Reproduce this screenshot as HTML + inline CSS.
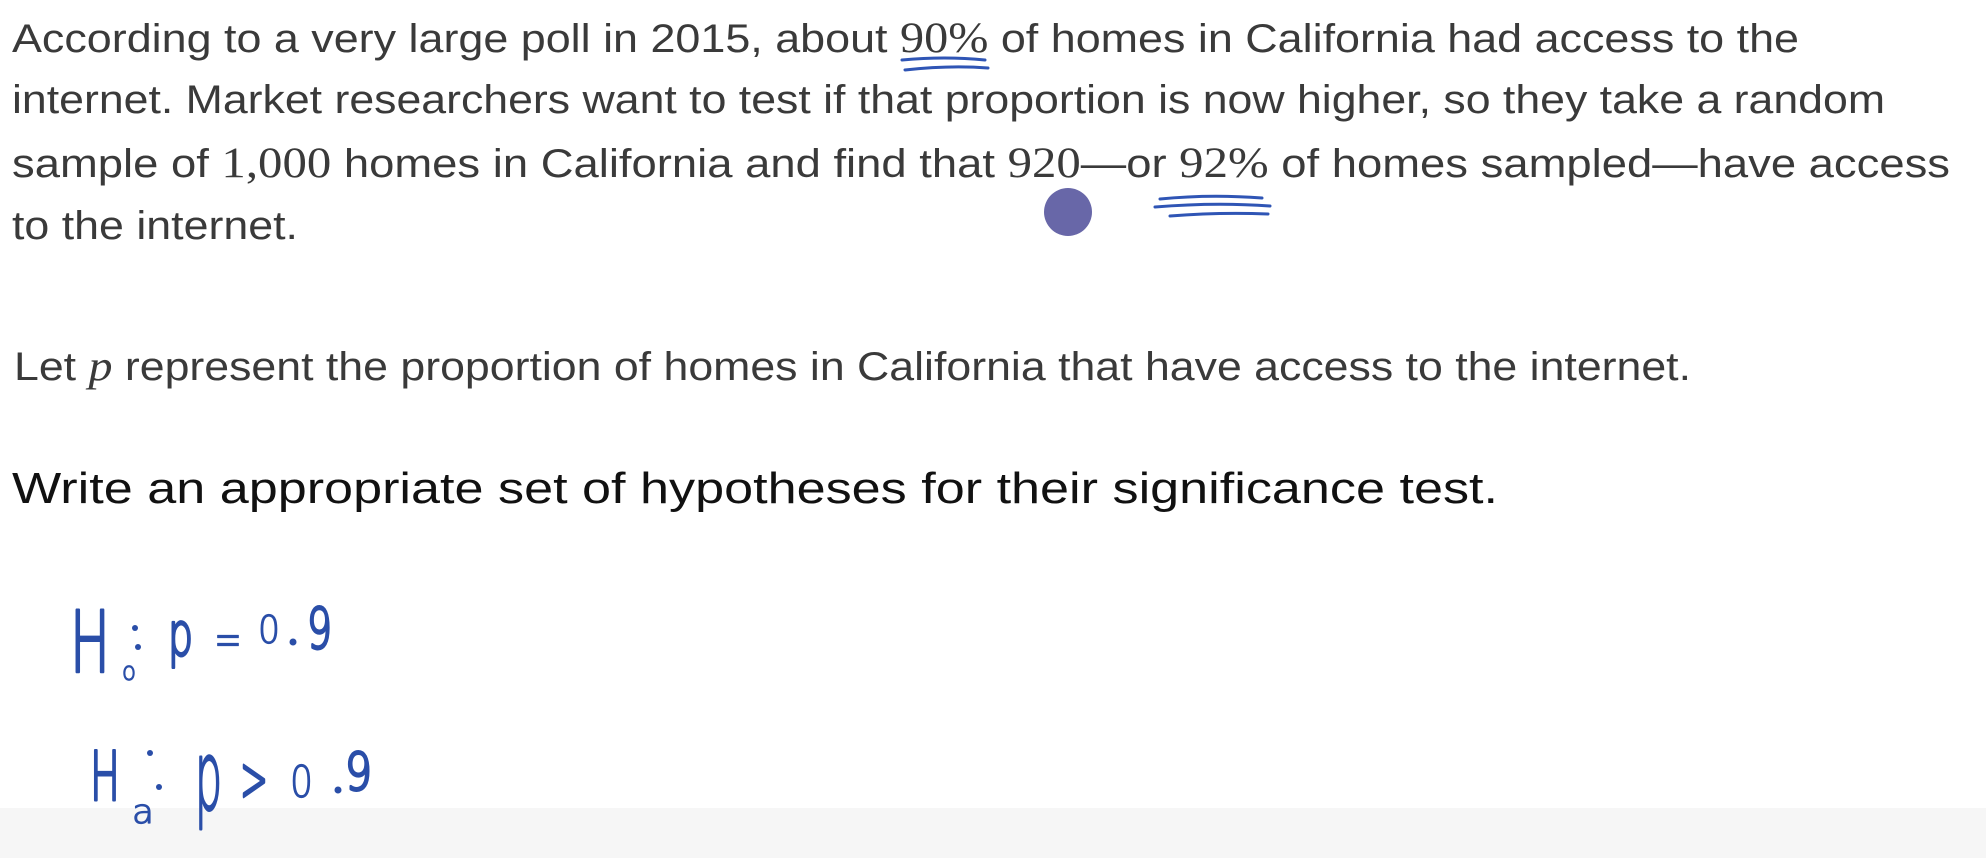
<!DOCTYPE html>
<html><head><meta charset="utf-8"><style>
html,body{margin:0;padding:0;background:#fff;width:1986px;height:858px;overflow:hidden}
svg{display:block}
.t{font-family:"Liberation Sans",sans-serif;font-size:40px;fill:#3a3a3a}
.m{font-family:"Liberation Serif",serif;font-size:43px}
.h{font-family:"DejaVu Sans","Liberation Sans",sans-serif;font-weight:200;fill:#2a4ea8;stroke:#2a4ea8;stroke-width:3;stroke-linejoin:round}
.s{stroke-width:1.2}
</style></head><body>
<svg width="1986" height="858" viewBox="0 0 1986 858">
<rect x="0" y="808" width="1986" height="50" fill="#f6f6f6"/>
<g>
<text class="t" x="12" y="52" textLength="1787" lengthAdjust="spacingAndGlyphs">According to a very large poll in 2015, about <tspan class="m">90%</tspan> of homes in California had access to the</text>
<text class="t" x="12" y="113" textLength="1873" lengthAdjust="spacingAndGlyphs">internet. Market researchers want to test if that proportion is now higher, so they take a random</text>
<text class="t" x="12" y="177" textLength="1938" lengthAdjust="spacingAndGlyphs">sample of <tspan class="m">1,000</tspan> homes in California and find that <tspan class="m">920</tspan>—or <tspan class="m">92%</tspan> of homes sampled—have access</text>
<text class="t" x="12" y="239" textLength="286" lengthAdjust="spacingAndGlyphs">to the internet.</text>
<text class="t" x="14" y="380" textLength="1677" lengthAdjust="spacingAndGlyphs">Let <tspan class="m" font-style="italic">p</tspan> represent the proportion of homes in California that have access to the internet.</text>
<text class="t" x="12" y="503" style="font-size:44px;fill:#111" textLength="1486" lengthAdjust="spacingAndGlyphs">Write an appropriate set of hypotheses for their significance test.</text>
</g>
<g fill="none" stroke="#2f55b5" stroke-linecap="round">
<path d="M902 60 Q945 56 985 60" stroke-width="3"/>
<path d="M905 70 Q950 65 988 68" stroke-width="3"/>
<path d="M1160 199 Q1210 194 1262 198" stroke-width="3"/>
<path d="M1155 207 Q1215 202 1270 206" stroke-width="3"/>
<path d="M1170 216 Q1220 212 1268 214" stroke-width="3"/>
<circle cx="1068" cy="212" r="24" fill="#6867a8" stroke="none"/>
</g>
<g>
<text class="h" x="70" y="672" font-size="85" textLength="40" lengthAdjust="spacingAndGlyphs">H</text>
<text class="h s" x="122" y="680" font-size="26" textLength="14" lengthAdjust="spacingAndGlyphs">o</text>
<circle cx="135" cy="628" r="3" fill="#2a4ea8"/><circle cx="138" cy="647" r="3" fill="#2a4ea8"/>
<text class="h" x="168" y="655" font-size="60" textLength="25" lengthAdjust="spacingAndGlyphs">p</text>
<text class="h s" x="214" y="656" font-size="50" textLength="28" lengthAdjust="spacingAndGlyphs">=</text>
<text class="h s" x="258" y="643" font-size="38" textLength="22" lengthAdjust="spacingAndGlyphs">0</text>
<circle cx="293" cy="642" r="3.5" fill="#2a4ea8"/>
<text class="h" x="307" y="648" font-size="56" textLength="25" lengthAdjust="spacingAndGlyphs">9</text>
</g>
<g>
<text class="h" x="90" y="800" font-size="68" textLength="30" lengthAdjust="spacingAndGlyphs">H</text>
<text class="h s" x="132" y="823" font-size="33" textLength="22" lengthAdjust="spacingAndGlyphs">a</text>
<circle cx="150" cy="753" r="3" fill="#2a4ea8"/><circle cx="159" cy="787" r="3" fill="#2a4ea8"/>
<text class="h" x="195" y="809" font-size="95" textLength="27" lengthAdjust="spacingAndGlyphs">p</text>
<text class="h" x="240" y="801" font-size="64" textLength="28" lengthAdjust="spacingAndGlyphs">&gt;</text>
<text class="h s" x="290" y="797" font-size="44" textLength="23" lengthAdjust="spacingAndGlyphs">0</text>
<circle cx="338" cy="790" r="3.5" fill="#2a4ea8"/>
<text class="h" x="345" y="790" font-size="52" textLength="27" lengthAdjust="spacingAndGlyphs">9</text>
</g>
</svg>
</body></html>
